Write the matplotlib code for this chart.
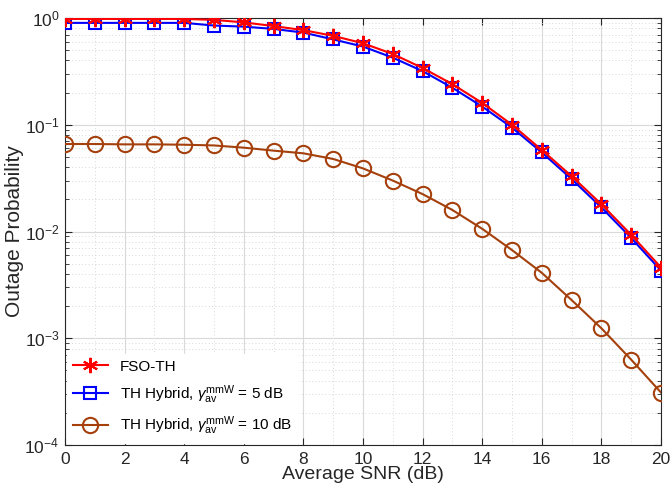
import numpy as np
import matplotlib
matplotlib.use('Agg')
from matplotlib import pyplot as plt
from matplotlib.ticker import LogLocator, NullFormatter

# SNR values (dB)
snr = np.arange(0, 21)

# FSO-TH outage probability
fso_th = [0.98, 0.98, 0.98, 0.98, 0.98, 0.96, 0.91, 0.84, 0.77, 0.68, 0.58,
          0.46, 0.34, 0.24, 0.16, 0.10, 0.058, 0.033, 0.018, 0.0093, 0.0046]

# TH hybrid, gamma_av^mmW = 5 dB
hyb5 = [0.90, 0.90, 0.90, 0.90, 0.90, 0.85, 0.83, 0.79, 0.73, 0.63, 0.54,
        0.425, 0.318, 0.222, 0.148, 0.094, 0.055, 0.031, 0.0168, 0.0087, 0.0043]

# TH hybrid, gamma_av^mmW = 10 dB
hyb10 = [0.066, 0.066, 0.0655, 0.0655, 0.065, 0.064, 0.061, 0.0572, 0.054, 0.0478, 0.039,
         0.030, 0.0224, 0.0159, 0.0106, 0.0067, 0.0041, 0.00228, 0.00124, 0.00063, 0.00031]

labels = ['FSO-TH',
          r'TH Hybrid, $\gamma_{\rm av}^{\rm mmW}$ = 5 dB',
          r'TH Hybrid, $\gamma_{\rm av}^{\rm mmW}$ = 10 dB']

plt.rcParams['font.family'] = ['Liberation Sans', 'DejaVu Sans']
plt.rcParams['mathtext.fontset'] = 'custom'
plt.rcParams['mathtext.rm'] = 'Liberation Sans'
plt.rcParams['mathtext.it'] = 'Liberation Sans:italic'

fig = plt.figure(figsize=(6.71, 4.87), dpi=100)
ax = fig.add_axes([65/671, 1-445/487, 596/671, 427/487])

# asterisk marker like matlab '*'
ax.semilogy(snr, fso_th, color='red', marker=(6, 2, 0), markersize=11, lw=1.5,
            markeredgewidth=1.5, label=labels[0], zorder=4)
ax.semilogy(snr, hyb5, color='blue', marker='s', markersize=9, lw=1.5,
            markerfacecolor='none', markeredgewidth=1.5, label=labels[1], zorder=3)
ax.semilogy(snr, hyb10, color='#A5400C', marker='o', markersize=11, lw=1.5,
            markerfacecolor='none', markeredgewidth=1.5, label=labels[2], zorder=3)

ax.set_xlim(0, 20)
ax.set_ylim(1e-4, 1)
ax.set_xticks(np.arange(0, 21, 2))
ax.yaxis.set_major_locator(LogLocator(base=10, numticks=10))
ax.yaxis.set_minor_locator(LogLocator(base=10, subs=np.arange(2, 10), numticks=10))
ax.yaxis.set_minor_formatter(NullFormatter())
ax.set_xticks(np.arange(0, 21, 1), minor=True)

ax.grid(True, which='major', color='#d9d9d9', lw=0.8)
ax.grid(True, which='minor', color='#cccccc', lw=0.6, linestyle=(0, (1, 3)))
ax.tick_params(which='both', direction='in', top=True, right=True, labelsize=12.5, colors='#262626')
ax.tick_params(which='minor', length=3)
ax.tick_params(which='major', length=5)
ax.tick_params(axis='x', which='minor', length=0)
ax.tick_params(axis='x', which='major', pad=5)
ax.tick_params(axis='y', which='major', pad=4)
for s in ax.spines.values():
    s.set_color('#262626')

ax.set_xlabel('Average SNR (dB)', fontsize=14, labelpad=-1, color='#262626')
ax.set_ylabel('Outage Probability', fontsize=15, labelpad=0, color='#262626')

leg = ax.legend(loc='lower left', fontsize=11, frameon=True, fancybox=False,
                framealpha=1, edgecolor='white', borderaxespad=0.1,
                handlelength=2.3, labelspacing=0.6)

plt.savefig('out.png', dpi=100)
